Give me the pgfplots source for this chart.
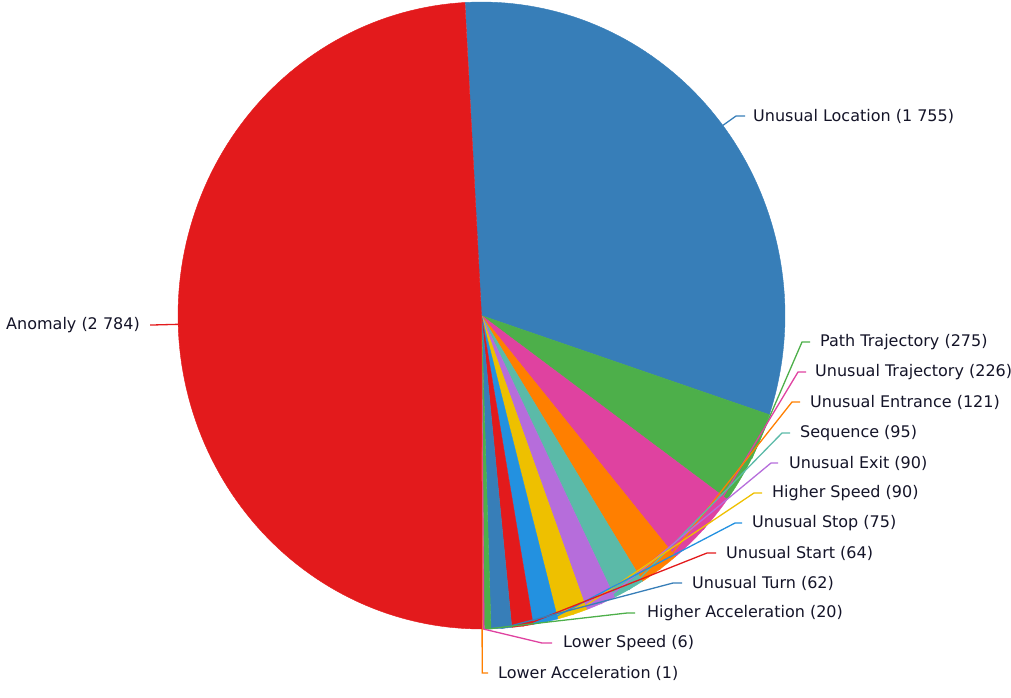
\documentclass[border=0pt]{standalone}
\usepackage{pgfplots}
\usepackage{pgfplotstable}
\pgfplotsset{compat=1.18}
\usepackage{fontspec}
\setmainfont{DejaVu Sans}

% slice colours, clockwise from the top
\definecolor{slice0}{HTML}{377EB8}
\definecolor{slice1}{HTML}{4DAF4A}
\definecolor{slice2}{HTML}{DF42A0}
\definecolor{slice3}{HTML}{FF7F00}
\definecolor{slice4}{HTML}{5BBAA8}
\definecolor{slice5}{HTML}{B66DDB}
\definecolor{slice6}{HTML}{EEC000}
\definecolor{slice7}{HTML}{2391E0}
\definecolor{slice8}{HTML}{E31A1C}
\definecolor{slice9}{HTML}{377EB8}
\definecolor{slice10}{HTML}{4DAF4A}
\definecolor{slice11}{HTML}{DF42A0}
\definecolor{slice12}{HTML}{FF7F00}
\definecolor{slice13}{HTML}{E31A1C}
\definecolor{labeltext}{HTML}{141428}

\newcommand\labelfont{\fontsize{16}{19}\selectfont}

% value; label position (lx,ly) in pixels, leader kink x (kx), leader end x (ex)
\pgfplotstableread[col sep=comma]{
label,value,lx,ly,kx,ex,anc
Unusual Location (1 755),1755,753,116,736,745,west
Path Trajectory (275),275,820,342,802,810,west
Unusual Trajectory (226),226,815,372,798,806,west
Unusual Entrance (121),121,810,402,792,800,west
Sequence (95),95,800,433,782,790,west
Unusual Exit (90),90,789,463,771,778,west
Higher Speed (90),90,772,493,754,762,west
Unusual Stop (75),75,752,523,735,742,west
Unusual Start (64),64,726,553,707,716,west
Unusual Turn (62),62,692,583,673,682,west
Higher Acceleration (20),20,647,613,627,635,west
Lower Speed (6),6,563,643,542,552,west
Lower Acceleration (1),1,498,673,482.2,488,west
Anomaly (2 784),2784,140,325,152,150,east
}\slices

\pgfmathsetmacro\total{0}
\pgfplotsforeachungrouped \i in {0,...,13}{%
  \pgfplotstablegetelem{\i}{value}\of\slices
  \pgfmathsetmacro\total{\total+\pgfplotsretval}%
}

\def\cx{481.5}
\def\cy{315.5}
\def\rx{303.5}
\def\ry{313.5}
\def\startangle{93.1}

\begin{document}
\begin{tikzpicture}
\useasboundingbox (0,0) rectangle (1011pt,697pt);
\begin{axis}[
  at={(0,0)}, anchor=south west,
  scale only axis, width=1011pt, height=697pt,
  xmin=0, xmax=1011, ymin=0, ymax=697, y dir=reverse,
  hide axis, clip=false,
]
% slices
\pgfmathsetmacro\angstart{\startangle}
\pgfplotsforeachungrouped \i in {0,...,13}{%
  \pgfplotstablegetelem{\i}{value}\of\slices
  \pgfmathsetmacro\angend{\angstart-\pgfplotsretval/\total*360}%
  \pgfmathtruncatemacro\ns{max(2,(\angstart-\angend)/1.5+2)}%
  \edef\doplot{\noexpand\addplot[fill=slice\i, draw=slice\i, line width=0.4pt,
    domain=\angend:\angstart, samples=\ns]
    ({\cx+\rx*cos(x)},{\cy-\ry*sin(x)}) -- (axis cs:\cx,\cy) -- cycle;}%
  \doplot
  \let\angstart\angend
}
% leader lines and labels
\pgfmathsetmacro\angstart{\startangle}
\pgfplotsforeachungrouped \i in {0,...,13}{%
  \pgfplotstablegetelem{\i}{value}\of\slices
  \pgfmathsetmacro\angend{\angstart-\pgfplotsretval/\total*360}%
  \pgfmathsetmacro\am{(\angstart+\angend)/2}%
  \pgfmathsetmacro\mx{\cx+\rx*cos(\am)}%
  \pgfmathsetmacro\my{\cy-\ry*sin(\am)}%
  \pgfplotstablegetelem{\i}{lx}\of\slices \let\lx\pgfplotsretval
  \pgfplotstablegetelem{\i}{ly}\of\slices \let\ly\pgfplotsretval
  \pgfplotstablegetelem{\i}{kx}\of\slices \let\kx\pgfplotsretval
  \pgfplotstablegetelem{\i}{ex}\of\slices \let\ex\pgfplotsretval
  \pgfplotstablegetelem{\i}{anc}\of\slices \let\anc\pgfplotsretval
  \pgfplotstablegetelem{\i}{label}\of\slices \let\lab\pgfplotsretval
  \edef\doline{\noexpand\addplot[draw=slice\i, line width=1.3pt, mark=none]
    coordinates {(\mx,\my) (\kx,\ly) (\ex,\ly)};}%
  \doline
  \edef\donode{\noexpand\node[anchor=\anc, inner sep=0pt, text=labeltext,
    font=\noexpand\labelfont] at (axis cs:\lx,\ly) {\lab};}%
  \donode
  \let\angstart\angend
}
\end{axis}
\end{tikzpicture}
\end{document}
